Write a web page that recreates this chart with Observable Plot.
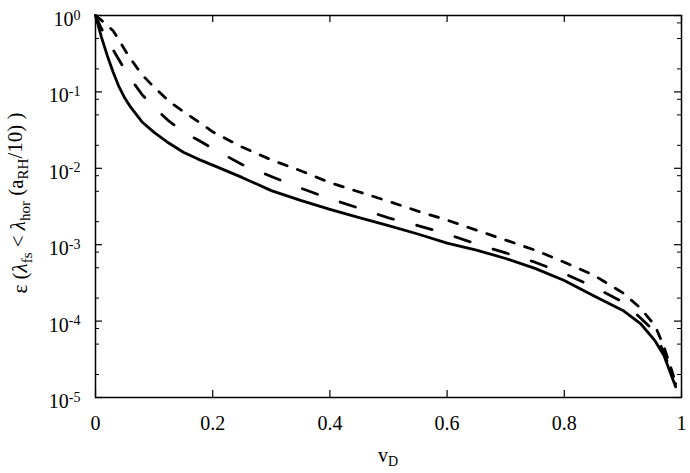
<!DOCTYPE html>
<html><head><meta charset="utf-8">
<script src="https://cdn.jsdelivr.net/npm/d3@7"></script>
<script src="https://cdn.jsdelivr.net/npm/@observablehq/plot@0.6"></script>
<style>body{margin:0;background:#fff}</style>
</head><body><div id="chart"></div>
<script>
// Data
const vD = [0, 0.01, 0.02, 0.03, 0.04, 0.05, 0.06, 0.08, 0.1, 0.125, 0.15, 0.175, 0.2, 0.25, 0.3, 0.35, 0.4, 0.45, 0.5, 0.55, 0.6, 0.65, 0.7, 0.75, 0.8, 0.85, 0.9, 0.93, 0.955, 0.97, 0.99];
const epsSolid  = [1, 0.525, 0.30, 0.182, 0.117, 0.083, 0.063, 0.040, 0.0295, 0.0214, 0.0162, 0.0132, 0.011, 0.0076, 0.0051, 0.0038, 0.0029, 0.00226, 0.00178, 0.00138, 0.00105, 0.00085, 0.00066, 0.00049, 0.00034, 0.000214, 0.000138, 0.000093, 0.000055, 0.0000355, 0.0000138];
const epsDashed = [1, 0.676, 0.49, 0.355, 0.263, 0.195, 0.148, 0.091, 0.063, 0.0417, 0.030, 0.0234, 0.0182, 0.0112, 0.0078, 0.0055, 0.0040, 0.0030, 0.00224, 0.00178, 0.00138, 0.00102, 0.00078, 0.00059, 0.00042, 0.00028, 0.000178, 0.00011, 0.000072, 0.000038, 0.0000151];
const epsDotted = [1, 0.87, 0.74, 0.63, 0.48, 0.355, 0.27, 0.166, 0.115, 0.076, 0.055, 0.041, 0.030, 0.019, 0.0129, 0.0093, 0.0065, 0.0049, 0.0037, 0.00275, 0.0021, 0.00155, 0.00115, 0.00085, 0.00059, 0.0004, 0.000234, 0.000148, 0.000087, 0.000046, 0.0000158];

const xTicks = [0, 0.2, 0.4, 0.6, 0.8, 1];
const xTickLabels = ["0", "0.2", "0.4", "0.6", "0.8", "1"];
const yTicks = [1, 1e-1, 1e-2, 1e-3, 1e-4, 1e-5];
const yTickExponents = ["0", "-1", "-2", "-3", "-4", "-5"];
const yMinorMultipliers = [2, 5, 8];

const seriesNames = ["solid", "dashed", "dotted"];
const seriesValues = [epsSolid, epsDashed, epsDotted];
const seriesDash = [null, "16,24", "9,11"];

const rows = seriesNames.map((name, k) => vD.map((v, i) => ({v, eps: seriesValues[k][i], name})));
const yMinor = yTicks.slice(1).flatMap(t => yMinorMultipliers.map(m => t * m));

const W = 690, H = 473, ML = 95, MR = 9, MT = 15, MB = 76;
const PW = W - ML - MR, PH = H - MT - MB;
const TL = 7, TM = 4;

const font = "'Liberation Serif', 'Times New Roman', serif";

const chart = Plot.plot({
  width: W, height: H,
  marginLeft: ML, marginRight: MR, marginTop: MT, marginBottom: MB,
  style: {fontFamily: font, fontSize: "20px", color: "black", background: "white"},
  x: {domain: [0, 1]},
  y: {type: "log", domain: [1e-5, 1]},
  marks: [
    Plot.axisX(xTicks, {tickSize: 0, tickPadding: 18, tickFormat: d => xTickLabels[xTicks.indexOf(d)], label: null, fontSize: 20}),
    Plot.axisY(yTicks, {tickSize: 0, tickPadding: 15, dy: 4, tickFormat: d => "10^" + yTickExponents[yTicks.indexOf(d)], label: null, fontSize: 20}),
    // inward ticks
    Plot.tickY(yTicks, {y: d => d, insetRight: PW - TL, stroke: "black", strokeWidth: 1.2}),
    Plot.tickY(yTicks, {y: d => d, insetLeft: PW - TL, stroke: "black", strokeWidth: 1.2}),
    Plot.tickY(yMinor, {y: d => d, insetRight: PW - TM, stroke: "black", strokeWidth: 1}),
    Plot.tickY(yMinor, {y: d => d, insetLeft: PW - TM, stroke: "black", strokeWidth: 1}),
    Plot.tickX(xTicks, {x: d => d, insetTop: PH - TL, stroke: "black", strokeWidth: 1.2}),
    Plot.tickX(xTicks, {x: d => d, insetBottom: PH - TL, stroke: "black", strokeWidth: 1.2}),
    ...rows.map((r, k) => Plot.line(r, {x: "v", y: "eps", stroke: "black", strokeWidth: 2.8, strokeDasharray: seriesDash[k], strokeLinejoin: "round"})),
    Plot.frame({stroke: "black", strokeWidth: 1.5})
  ]
});

document.getElementById("chart").appendChild(chart);
const svg = d3.select(chart);

// superscripts for y tick labels
svg.selectAll('g[aria-label="y-axis tick label"] text').each(function() {
  const t = d3.select(this);
  const s = t.text();
  const [base, exp] = s.split("^");
  t.text(null);
  t.append("tspan").text(base);
  t.append("tspan").attr("dy", "-0.45em").attr("font-size", "14px").text(exp);
});

// y-axis label
const yl = svg.append("text")
  .attr("transform", `translate(27,${MT + PH / 2 - 3}) rotate(-90)`)
  .attr("text-anchor", "middle")
  .attr("font-family", font).attr("font-size", "21px").attr("fill", "black");
yl.append("tspan").text("ε (");
yl.append("tspan").attr("font-style", "italic").text("λ");
yl.append("tspan").attr("font-size", "15px").attr("dy", "0.3em").text("fs");
yl.append("tspan").attr("dy", "-0.3em").text(" < ");
yl.append("tspan").attr("font-style", "italic").text("λ");
yl.append("tspan").attr("font-size", "15px").attr("dy", "0.3em").text("hor");
yl.append("tspan").attr("dy", "-0.3em").text(" (a");
yl.append("tspan").attr("font-size", "15px").attr("dy", "0.3em").text("RH");
yl.append("tspan").attr("dy", "-0.3em").text("/10) )");

// x-axis label
const xl = svg.append("text")
  .attr("x", ML + PW / 2).attr("y", 462)
  .attr("text-anchor", "middle")
  .attr("font-family", font).attr("font-size", "20px").attr("fill", "black");
xl.append("tspan").text("v");
xl.append("tspan").attr("font-size", "14px").attr("dy", "0.3em").text("D");
</script>
</body></html>
